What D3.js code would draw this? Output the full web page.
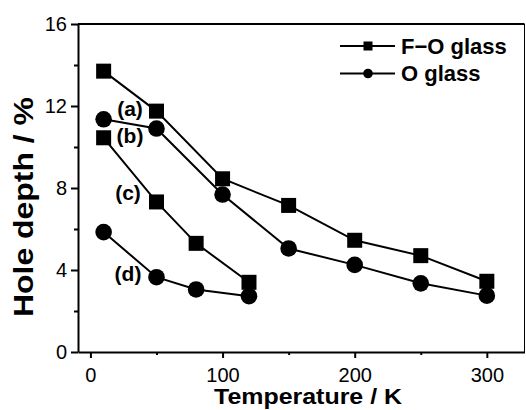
<!DOCTYPE html>
<html>
<head>
<meta charset="utf-8">
<script src="https://cdn.jsdelivr.net/npm/d3@7"></script>
<style>
	body { margin: 0; background: #fff; }
	text { font-family: "Liberation Sans", Arial, sans-serif; fill: #000; }
</style>
</head>
<body>
<div id="chart"></div>
<script>
// temperatures (K)
var tempsLong = [10, 50, 100, 150, 200, 250, 300];
var tempsShort = [10, 50, 80, 120];
// hole depth (%)
var seriesA = [13.7, 11.75, 8.45, 7.15, 5.45, 4.7, 3.45];   // F-O glass
var seriesB = [11.35, 10.9, 7.68, 5.05, 4.25, 3.35, 2.75];  // O glass
var seriesC = [10.45, 7.32, 5.3, 3.4];                      // F-O glass
var seriesD = [5.85, 3.65, 3.05, 2.72];                     // O glass
var curveLabels = ["(a)", "(b)", "(c)", "(d)"];
var xTicks = [0, 100, 200, 300];
var yTicks = [0, 4, 8, 12, 16];
var legendNames = ["F\u2212O glass", "O glass"];

var width = 526, height = 410;
var svg = d3.select("#chart").append("svg")
	.attr("width", width)
	.attr("height", height);

svg.append("rect").attr("width", width).attr("height", height).attr("fill", "#fff");

var x = d3.scaleLinear().domain([-9.4, 328.5]).range([78, 524.5]);
var y = d3.scaleLinear().domain([0, 16]).range([352, 24]);

// frame
svg.append("line").attr("x1", 78).attr("x2", 524.5).attr("y1", 24).attr("y2", 24)
	.attr("stroke", "#000").attr("stroke-width", 2);
svg.append("line").attr("x1", 524.5).attr("x2", 524.5).attr("y1", 24).attr("y2", 352)
	.attr("stroke", "#000").attr("stroke-width", 1);

// x axis
var xAxis = svg.append("g")
	.attr("transform", "translate(0,352)")
	.call(d3.axisBottom(x).tickValues(xTicks).tickSize(6).tickPadding(9).tickSizeOuter(0));
svg.append("g")
	.attr("transform", "translate(0,352)")
	.call(d3.axisBottom(x).tickValues([50, 150, 250]).tickSize(3).tickFormat("").tickSizeOuter(0))
	.select(".domain").remove();

// y axis
var yAxis = svg.append("g")
	.attr("transform", "translate(78,0)")
	.call(d3.axisLeft(y).tickValues(yTicks).tickSize(7).tickPadding(4).tickSizeOuter(0));
svg.append("g")
	.attr("transform", "translate(78,0)")
	.call(d3.axisLeft(y).tickValues([2, 6, 10, 14]).tickSize(4).tickFormat("").tickSizeOuter(0))
	.select(".domain").remove();

svg.selectAll(".domain").attr("stroke-width", 2);
svg.selectAll(".tick line").attr("stroke-width", 2);
svg.selectAll(".tick text")
	.style("font-family", "'Liberation Sans', Arial, sans-serif")
	.style("font-size", "20px");
xAxis.selectAll(".tick text").attr("dy", "0.75em");

// axis titles
svg.append("text")
	.attr("x", 308).attr("y", 404)
	.attr("text-anchor", "middle")
	.attr("textLength", 188).attr("lengthAdjust", "spacingAndGlyphs")
	.style("font-size", "22px").style("font-weight", "bold")
	.text("Temperature / K");

svg.append("text")
	.attr("transform", "translate(33,207) rotate(-90)")
	.attr("text-anchor", "middle")
	.attr("textLength", 220).attr("lengthAdjust", "spacingAndGlyphs")
	.style("font-size", "28px").style("font-weight", "bold")
	.text("Hole depth / %");

var line = d3.line()
	.x(function (d) { return x(d.t); })
	.y(function (d) { return y(d.v); });

function toPoints(ts, vs) {
	return ts.map(function (t, i) { return { t: t, v: vs[i] }; });
}

var curves = [
	{ pts: toPoints(tempsLong, seriesA), shape: "square" },
	{ pts: toPoints(tempsLong, seriesB), shape: "circle" },
	{ pts: toPoints(tempsShort, seriesC), shape: "square" },
	{ pts: toPoints(tempsShort, seriesD), shape: "circle" }
];

curves.forEach(function (c) {
	svg.append("path")
		.datum(c.pts)
		.attr("fill", "none")
		.attr("stroke", "#000")
		.attr("stroke-width", 2)
		.attr("d", line);
	if (c.shape === "square") {
		svg.selectAll(null).data(c.pts).enter().append("rect")
			.attr("x", function (d) { return x(d.t) - 7.5; })
			.attr("y", function (d) { return y(d.v) - 7.5; })
			.attr("width", 15).attr("height", 15)
			.attr("fill", "#000");
	} else {
		svg.selectAll(null).data(c.pts).enter().append("circle")
			.attr("cx", function (d) { return x(d.t); })
			.attr("cy", function (d) { return y(d.v); })
			.attr("r", 8.3)
			.attr("fill", "#000");
	}
});

// curve labels
var labelPos = [[130, 116], [130, 143], [128, 200], [128, 281]];
curveLabels.forEach(function (l, i) {
	svg.append("text")
		.attr("x", labelPos[i][0]).attr("y", labelPos[i][1])
		.attr("text-anchor", "middle")
		.style("font-size", "21px").style("font-weight", "bold")
		.text(l);
});

// legend
legendNames.forEach(function (name, i) {
	var ly = 46 + i * 27.5;
	var g = svg.append("g");
	g.append("line").attr("x1", 340).attr("x2", 395).attr("y1", ly).attr("y2", ly)
		.attr("stroke", "#000").attr("stroke-width", 2);
	if (i === 0) {
		g.append("rect").attr("x", 363.5).attr("y", ly - 4.5).attr("width", 9).attr("height", 9).attr("fill", "#000");
	} else {
		g.append("circle").attr("cx", 368).attr("cy", ly).attr("r", 4.8).attr("fill", "#000");
	}
	g.append("text")
		.attr("x", 401).attr("y", ly + 7.5)
		.style("font-size", "22px").style("font-weight", "bold")
		.text(name);
});
</script>
</body>
</html>
